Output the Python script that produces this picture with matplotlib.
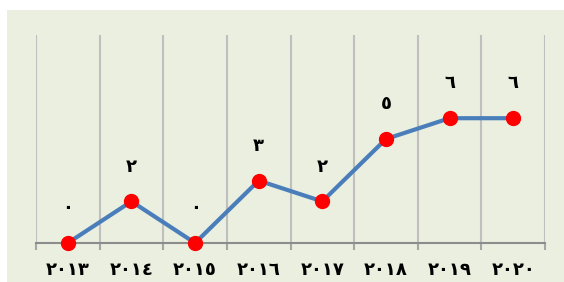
import matplotlib.pyplot as plt
from matplotlib.patches import Rectangle

# Data
years = ['٢٠١٣', '٢٠١٤', '٢٠١٥', '٢٠١٦', '٢٠١٧', '٢٠١٨', '٢٠١٩', '٢٠٢٠']
values = [0, 2, 0, 3, 2, 5, 6, 6]
value_labels = ['٠', '٢', '٠', '٣', '٢', '٥', '٦', '٦']

bg = '#EBEFDF'
plt.rcParams['font.family'] = ['DejaVu Sans']

fig = plt.figure(figsize=(5.64, 2.82), dpi=100)
fig.patch.set_facecolor('white')
fig.patches.append(Rectangle((7 / 564, 0), 1 - 7 / 564, 272 / 282,
                             transform=fig.transFigure, facecolor=bg,
                             edgecolor='none', zorder=-10))

ax = fig.add_axes([36 / 564, 39 / 282, 509 / 564, 208 / 282])
ax.set_facecolor('none')

x = list(range(len(years)))
ax.plot(x, values, color='#4A7EBB', lw=3, marker='o', markersize=10,
        markerfacecolor='#FF0000', markeredgecolor='#FF0000', zorder=3,
        clip_on=False)

for xi, v, lab in zip(x, values, value_labels):
    ax.annotate(lab, (xi, v), xytext=(0, 25), textcoords='offset points',
                ha='center', va='center', fontsize=13, fontweight='bold')

ax.set_xlim(-0.5, len(years) - 0.5)
ax.set_ylim(0, 10)

# vertical gridlines at category boundaries
bounds = [i - 0.5 for i in range(len(years) + 1)]
ax.set_xticks(bounds, minor=True)
ax.set_xticks(x)
ax.set_xticklabels(years, fontsize=13, fontweight='bold')
ax.tick_params(axis='x', which='major', length=0, pad=13)
ax.tick_params(axis='x', which='minor', length=5, width=1.5, color='#A6A6A6')
ax.grid(axis='x', which='minor', color='#BFBFBF', lw=1.5)
ax.set_yticks([])

for s in ['top', 'right', 'left']:
    ax.spines[s].set_visible(False)
ax.spines['bottom'].set_color('#8C8C8C')
ax.spines['bottom'].set_linewidth(1.5)

fig.savefig('out.png', dpi=100, facecolor=fig.get_facecolor())
